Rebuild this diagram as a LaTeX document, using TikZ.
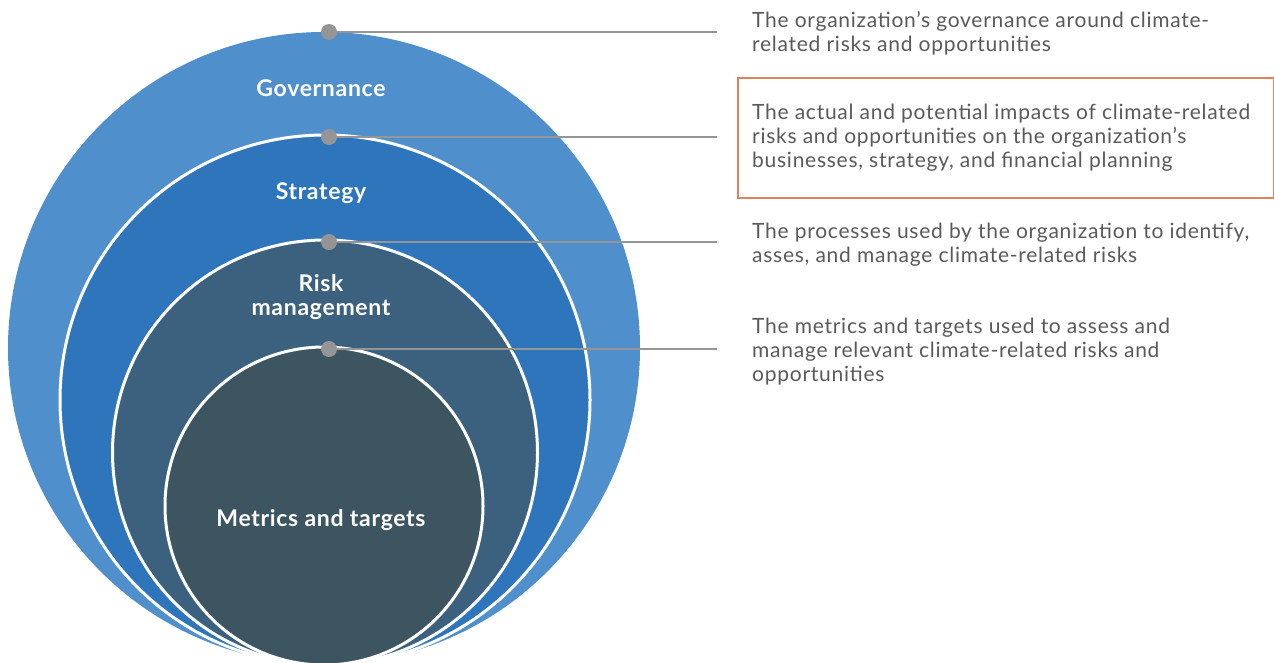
\documentclass[tikz,border=0pt]{standalone}
\usepackage{fontspec}
\setmainfont{Lato}
\newfontfamily\descfont[LetterSpace=3.5]{Lato}
\newfontfamily\lblfont[LetterSpace=3]{Lato}
\definecolor{govc}{HTML}{4F8FCB}
\definecolor{strc}{HTML}{2E75BC}
\definecolor{riskc}{HTML}{3C617F}
\definecolor{metc}{HTML}{3D5561}
\definecolor{dotc}{HTML}{959595}
\definecolor{txtc}{HTML}{5A5A5A}
\definecolor{boxc}{HTML}{E2805E}
\tikzset{
  ring/.style={circle, inner sep=0pt, draw=white, line width=3pt},
  lbl/.style={text=white, font=\lblfont\fontsize{23}{24}\selectfont\bfseries, align=center, inner sep=0pt},
  dotn/.style={circle, fill=dotc, inner sep=0pt, minimum size=16pt},
  conn/.style={draw=dotc, line width=2.2pt},
  desc/.style={text=txtc, font=\descfont\fontsize{21}{24}\selectfont, align=left, anchor=north west, inner sep=0pt},
  hbox/.style={draw=boxc, line width=1.5pt}
}
\begin{document}
\begin{tikzpicture}[x=1pt,y=-1pt]
\useasboundingbox (0,0) rectangle (1274,662);
\begin{scope}
\clip (0,0) rectangle (1274,662);
\node[circle, inner sep=0pt, fill=govc, minimum size=632pt] (gov) at (324,348) {};
\node[ring, fill=strc, minimum size=530pt] (str) at (325,400) {};
\node[ring, fill=riskc, minimum size=425pt] (risk) at (325,452.5) {};
\node[ring, fill=metc, minimum size=318pt] (met) at (324,506) {};
\end{scope}
\node[lbl] (lgov) at (321,88) {Governance};
\node[lbl] (lstr) at (321,193) {Strategy};
\node[lbl] (lrisk) at (321,297) {Risk\\management};
\node[lbl] (lmet) at (321,520) {Metrics and targets};
\node[dotn] (d1) at (329,32) {};
\node[dotn] (d2) at (329,137) {};
\node[dotn] (d3) at (329,242) {};
\node[dotn] (d4) at (329,349) {};
\coordinate (e1) at (717,32);
\coordinate (e2) at (717,137);
\coordinate (e3) at (717,242);
\coordinate (e4) at (717,349);
\draw[conn] (d1.center) -- (e1);
\draw[conn] (d2.center) -- (e2);
\draw[conn] (d3.center) -- (e3);
\draw[conn] (d4.center) -- (e4);
\node[desc] (t1) at (752,11) {The organization’s governance around climate-\\related risks and opportunities};
\node[hbox, minimum width=536pt, minimum height=120pt, anchor=north west, inner sep=0pt] (b2) at (737,77) {};
\node[desc] (t2) at (752,104) {The actual and potential impacts of climate-related\\risks and opportunities on the organization’s\\businesses, strategy, and financial planning};
\node[desc] (t3) at (752,223) {The processes used by the organization to identify,\\asses, and manage climate-related risks};
\node[desc] (t4) at (752,318) {The metrics and targets used to assess and\\manage relevant climate-related risks and\\opportunities};
\end{tikzpicture}
\end{document}
